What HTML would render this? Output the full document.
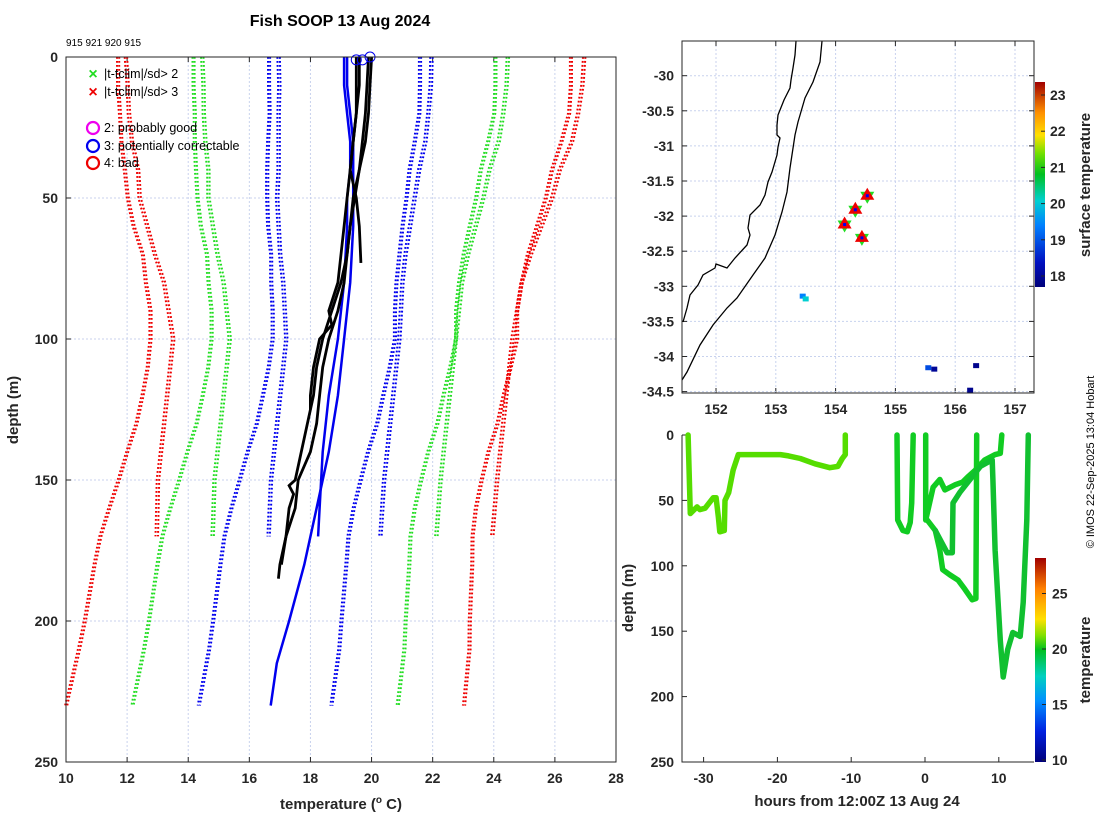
<!DOCTYPE html>
<html><head><meta charset="utf-8">
<style>
html,body{margin:0;padding:0;background:#fff;}
svg{display:block;font-family:"Liberation Sans","DejaVu Sans",sans-serif;}
.tk{font-size:14px;font-weight:bold;fill:#262626;}
.lab{font-size:15px;font-weight:bold;fill:#262626;}
</style></head>
<body>
<svg id="fig" width="1100" height="820" viewBox="0 0 1100 820" xmlns="http://www.w3.org/2000/svg">
<defs>
<linearGradient id="cbMap" x1="0" y1="1" x2="0" y2="0">
<stop offset="0" stop-color="#00007a"/><stop offset="0.12" stop-color="#0010c0"/><stop offset="0.3" stop-color="#0080ff"/><stop offset="0.42" stop-color="#00d0d0"/><stop offset="0.55" stop-color="#00c020"/><stop offset="0.65" stop-color="#70e000"/><stop offset="0.74" stop-color="#ffe000"/><stop offset="0.85" stop-color="#ff9000"/><stop offset="1" stop-color="#a00000"/>
</linearGradient>
<linearGradient id="cbBot" x1="0" y1="1" x2="0" y2="0">
<stop offset="0" stop-color="#00007a"/><stop offset="0.15" stop-color="#0020e0"/><stop offset="0.3" stop-color="#0090ff"/><stop offset="0.42" stop-color="#00d0c0"/><stop offset="0.55" stop-color="#00c020"/><stop offset="0.62" stop-color="#80e000"/><stop offset="0.7" stop-color="#ffe000"/><stop offset="0.85" stop-color="#ff8000"/><stop offset="1" stop-color="#a00000"/>
</linearGradient>
</defs>
<text x="340" y="26" text-anchor="middle" font-size="16" font-weight="bold" fill="#000">Fish SOOP 13 Aug 2024</text>
<text x="66" y="46" font-size="10" fill="#000">915 921 920 915</text>
<text transform="translate(1094,462) rotate(-90)" text-anchor="middle" font-size="11" fill="#000">© IMOS 22-Sep-2025 13:04 Hobart</text>
<g id="main"></g>
<g id="map"></g>
<g id="bot"></g>
</svg>
<script>
// ---------- Main profile data ----------
const climDepthsLong = [0,10,20,30,40,50,60,70,80,90,100,110,120,130,140,150,160,170,180,190,200,210,220,230];
const climMeanLong = [19.2,19.2,19.2,19.1,19.0,18.95,18.9,18.9,18.85,18.85,18.85,18.7,18.5,18.3,18.0,17.75,17.5,17.3,17.2,17.1,17.0,16.9,16.75,16.6];
const climSdLong = [2.47,2.47,2.45,2.4,2.33,2.28,2.2,2.1,2.05,2.0,2.0,1.98,1.97,1.97,1.97,1.98,2.0,2.03,2.06,2.08,2.1,2.13,2.15,2.17];
const climDepthsShort = [0,10,20,30,40,50,60,70,80,90,100,110,120,130,140,150,160,170];
const climMeanShort = [19.3,19.3,19.25,19.2,19.1,19.0,18.95,18.9,18.9,18.9,18.9,18.8,18.7,18.6,18.5,18.4,18.35,18.3];
const climSdShort = [2.5,2.48,2.45,2.4,2.3,2.25,2.15,2.05,1.95,1.9,1.85,1.85,1.85,1.85,1.85,1.85,1.84,1.83];
const climOffsets = [-0.12, 0.12, -0.05, 0.2];
const climTypes = ['long','short','long','short'];
const sdMultipliers = [1,2,3];
const sdColors = ['#0000ee','#22dd22','#ee0000'];

const blackDepths1 = [0,10,20,30,40,50,60,70,80,90,100,110,120,130,140,150,152,155,160,170,180,185];
const blackTemps1 = [19.9,19.85,19.8,19.7,19.6,19.45,19.3,19.2,19.0,18.7,18.4,18.2,18.1,17.9,17.7,17.5,17.3,17.45,17.3,17.2,17.0,16.95];
const blackDepths2 = [0,10,20,30,40,50,60,70,80,90,95,100,110,120,125];
const blackTemps2 = [19.6,19.6,19.5,19.4,19.3,19.2,19.1,19.0,18.9,18.6,18.7,18.3,18.1,18.0,18.0];
const blackDepths3 = [0,10,20,30,40,50,60,73];
const blackTemps3 = [19.5,19.5,19.5,19.4,19.3,19.5,19.6,19.65];
const blackDepths4 = [0,10,20,30,40,50,60,70,80,90,100,110,120,130,140,150,160,170,180];
const blackTemps4 = [20.0,19.95,19.9,19.8,19.6,19.4,19.3,19.2,19.1,18.9,18.6,18.4,18.3,18.2,18.0,17.6,17.5,17.2,17.05];
const blueDepths1 = [0,10,20,30,40,50,60,80,100,120,140,160,180,200,215,230];
const blueTemps1 = [19.2,19.2,19.3,19.4,19.4,19.4,19.4,19.3,19.1,18.9,18.6,18.2,17.8,17.3,16.9,16.7];
const blueDepths2 = [0,10,20,30,40,50,60,80,100,120,140,160,170];
const blueTemps2 = [19.1,19.1,19.2,19.3,19.3,19.2,19.2,19.1,18.9,18.6,18.4,18.3,18.25];
const flagTemps = [19.5,19.7,19.95];
const flagDepths = [1,1,0];
const tempTicks = [10,12,14,16,18,20,22,24,26,28];
const depthTicks = [0,50,100,150,200,250];

// ---------- Map data ----------
const lonTicks = [152,153,154,155,156,157];
const latTicks = [-30,-30.5,-31,-31.5,-32,-32.5,-33,-33.5,-34,-34.5];
const stationLons = [154.53,154.33,154.15,154.44];
const stationLats = [-31.71,-31.91,-32.12,-32.31];
const sstLons = [153.45,153.5,155.55,155.65,156.35,156.25];
const sstLats = [-33.14,-33.18,-34.16,-34.18,-34.13,-34.48];
const sstVals = [19.3,20.0,18.8,17.8,17.7,17.7];
const mapCbTicks = [18,19,20,21,22,23];

// ---------- Depth-time data ----------
const track1Hours = [-32.1,-31.8,-30.9,-30.5,-29.8,-28.7,-28.3,-28.0,-27.8,-27.2,-27.1,-26.6,-26.0,-25.3,-25.1,-22.4,-19.6,-18.5,-16.9,-14.9,-12.9,-11.8,-11.2,-10.8,-10.8];
const track1Depths = [0,60,55,57,56,48,48,63,74,73,50,44,27,15,15,15,15,16,18,22,25,24,18,15,0];
const track2Hours = [-3.8,-3.7,-3.0,-2.4,-2.0,-1.8,-1.6];
const track2Depths = [0,65,73,74,67,52,0];
const track3Hours = [0.1,0.1,0.3,1.1,2.0,2.7,4.1,5.1,5.8,6.8,8.1,9.5,10.2,10.4];
const track3Depths = [0,65,60,40,34,42,38,36,32,27,19,15,14,0];
const track4Hours = [0.3,1.4,2.0,2.4,3.4,4.5,5.4,6.4,6.9,7.0];
const track4Depths = [65,73,88,103,107,111,118,126,125,0];
const track5Hours = [1.4,3.0,3.7,3.8,4.7,6.1,7.5,9.1,9.2,9.5,10.2,10.6,11.2,11.9,12.9,13.3,13.8,14.0];
const track5Depths = [73,90,90,52,44,34,24,19,34,88,157,185,164,151,154,128,65,0];
const hourTicks = [-30,-20,-10,0,10];
const botDepthTicks = [0,50,100,150,200,250];
const botCbTicks = [10,15,20,25];

const NS='http://www.w3.org/2000/svg';
function mk(tag, attrs, parent){const e=document.createElementNS(NS,tag);for(const k in attrs)e.setAttribute(k,attrs[k]);parent.appendChild(e);return e;}

// ===== MAIN PLOT =====
const main=document.getElementById('main');
const MX0=66,MX1=616,MY0=57,MY1=762;
const xT=t=>MX0+(t-10)/(28-10)*(MX1-MX0);
const yD=d=>MY0+d/250*(MY1-MY0);
tempTicks.forEach(t=>{
  const g=mk('line',{x1:xT(t),x2:xT(t),y1:MY0,y2:MY1,stroke:'#c8d2ee','stroke-width':1,'stroke-dasharray':'2 2'},main);
  
  
  const tl=mk('text',{x:xT(t),y:MY1+21,'text-anchor':'middle',class:'tk'},main);tl.textContent=t;
  
  
  mk('line',{x1:xT(t),x2:xT(t),y1:MY1,y2:MY1-5,stroke:'#262626'},main);
  mk('line',{x1:xT(t),x2:xT(t),y1:MY0,y2:MY0+5,stroke:'#262626'},main);
});
depthTicks.forEach(d=>{
  const g=mk('line',{x1:MX0,x2:MX1,y1:yD(d),y2:yD(d),stroke:'#c8d2ee','stroke-width':1,'stroke-dasharray':'2 2'},main);
  
  
  const tl=mk('text',{x:MX0-8,y:yD(d)+5,'text-anchor':'end',class:'tk'},main);tl.textContent=d;
  
  
  mk('line',{x1:MX0,x2:MX0+5,y1:yD(d),y2:yD(d),stroke:'#262626'},main);
});
function poly(par,xs,ys,attrs){const pts=xs.map((x,i)=>x.toFixed(1)+','+ys[i].toFixed(1)).join(' ');return mk('polyline',Object.assign({points:pts,fill:'none'},attrs),par);}
climTypes.forEach((ty,p)=>{
  const dep=ty==='long'?climDepthsLong:climDepthsShort;
  const mean=ty==='long'?climMeanLong:climMeanShort;
  const sd=ty==='long'?climSdLong:climSdShort;
  sdMultipliers.forEach((m,k)=>{
    [-1,1].forEach(s=>{
      const xs=dep.map((d,i)=>xT(mean[i]+climOffsets[p]+s*m*sd[i]));
      const ys=dep.map(d=>yD(d));
      const l=poly(main,xs,ys,{stroke:sdColors[k],'stroke-width':2,'stroke-dasharray':'1.8 2.2'});
      
      
    });
  });
});
[[blueDepths1,blueTemps1],[blueDepths2,blueTemps2]].forEach(([d,t])=>{
  const l=poly(main,t.map(xT),d.map(yD),{stroke:'#0000ee','stroke-width':2.5});
  
  
});
[[blackDepths1,blackTemps1],[blackDepths2,blackTemps2],[blackDepths3,blackTemps3],[blackDepths4,blackTemps4]].forEach(([d,t])=>{
  const l=poly(main,t.map(xT),d.map(yD),{stroke:'#000','stroke-width':2.8});
  
  
});
flagTemps.forEach((t,i)=>{
  const c=mk('circle',{cx:xT(t),cy:yD(flagDepths[i]),r:5,fill:'none',stroke:'#0000ee','stroke-width':1},main);
  
  
});
mk('rect',{x:MX0,y:MY0,width:MX1-MX0,height:MY1-MY0,fill:'none',stroke:'#262626','stroke-width':1},main);
// legend
const lg=mk('g',{},main);


const legItems=[['x','#22dd22',74,'|t-tclim|/sd> 2'],['x','#ee0000',92,'|t-tclim|/sd> 3'],['o','#ee00ee',128,'2: probably good'],['o','#0000ee',146,'3: potentially correctable'],['o','#ee0000',163,'4: bad']];
legItems.forEach(([s,c,y,txt])=>{
  if(s==='x'){mk('text',{x:93,y:y+5,'text-anchor':'middle','font-size':16,'font-weight':'bold',fill:c},lg).textContent='×';}
  else mk('circle',{cx:93,cy:y,r:6,fill:'none',stroke:c,'stroke-width':2.2},lg);
  const t=mk('text',{x:104,y:y+4,'font-size':12.5,fill:'#000'},lg);t.textContent=txt;
  
  
});
const xl=mk('text',{x:341,y:809,'text-anchor':'middle',class:'lab'},main);
xl.innerHTML='temperature (<tspan font-size="10" dy="-6">o</tspan><tspan dy="6"> C)</tspan>';


const yl=mk('text',{transform:'translate(18,410) rotate(-90)','text-anchor':'middle',class:'lab'},main);yl.textContent='depth (m)';



// ===== MAP =====
const map=document.getElementById('map');
const AX0=682,AX1=1034,AY0=41,AY1=393;
const xLon=l=>716+(l-152)*59.8;
const yLat=l=>75.7+(-30-l)*70.2;
lonTicks.forEach(l=>{
  mk('line',{x1:xLon(l),x2:xLon(l),y1:AY0,y2:AY1,stroke:'#c8d2ee','stroke-dasharray':'2 2'},map);
  mk('line',{x1:xLon(l),x2:xLon(l),y1:AY1,y2:AY1-5,stroke:'#262626'},map);
  mk('line',{x1:xLon(l),x2:xLon(l),y1:AY0,y2:AY0+5,stroke:'#262626'},map);
  const t=mk('text',{x:xLon(l),y:AY1+21,'text-anchor':'middle',class:'tk'},map);t.textContent=l;
  
  
});
latTicks.forEach(l=>{
  mk('line',{x1:AX0,x2:AX1,y1:yLat(l),y2:yLat(l),stroke:'#c8d2ee','stroke-dasharray':'2 2'},map);
  mk('line',{x1:AX0,x2:AX0+5,y1:yLat(l),y2:yLat(l),stroke:'#262626'},map);
  mk('line',{x1:AX1,x2:AX1-5,y1:yLat(l),y2:yLat(l),stroke:'#262626'},map);
  const t=mk('text',{x:AX0-8,y:yLat(l)+5,'text-anchor':'end',class:'tk'},map);t.textContent=l;
  
  
});
const coast=mk('polyline',{points:'796,41 795,55 793,68 791,80 790,88 784,100 778,115 777,125 777,135 780,138 778,147 777,155 772,172 768,182 765,195 760,205 750,215 748,228 750,235 747,245 735,258 727,268 716,264 715,268 703,275 698,285 690,295 687,308 683,322',fill:'none',stroke:'#000','stroke-width':1.3},map);


const iso=mk('polyline',{points:'822,41 820,62 813,82 805,98 798,122 795,135 790,168 787,192 782,212 775,235 765,258 753,275 737,298 727,308 713,325 700,345 687,372 682,380',fill:'none',stroke:'#000','stroke-width':1.3},map);


function sstColor(v){const f=(v-17.5)/(23.5-17.5);const stops=[[0,[0,0,122]],[0.12,[0,16,192]],[0.3,[0,128,255]],[0.42,[0,208,208]],[0.55,[0,192,32]],[0.65,[112,224,0]],[0.74,[255,224,0]],[0.85,[255,144,0]],[1,[160,0,0]]];for(let i=1;i<stops.length;i++){if(f<=stops[i][0]){const a=stops[i-1],b=stops[i];const u=(f-a[0])/(b[0]-a[0]);return 'rgb('+a[1].map((c,k)=>Math.round(c+(b[1][k]-c)*u)).join(',')+')';}}return 'rgb(160,0,0)';}
sstLons.forEach((l,i)=>{
  const r=mk('rect',{x:xLon(l)-3,y:yLat(sstLats[i])-2.5,width:6,height:5,fill:sstColor(sstVals[i])},map);
  
  
});
stationLons.forEach((l,i)=>{
  const x=xLon(l),y=yLat(stationLats[i]);
  const g=mk('g',{},map);
  
  
  mk('polygon',{points:`${x-7},${y-4} ${x+7},${y-4} ${x},${y+8}`,fill:'#22dd22'},g);
  mk('polygon',{points:`${x-7},${y+4} ${x+7},${y+4} ${x},${y-8}`,fill:'#ee0000'},g);
  mk('rect',{x:x-1.5,y:y-1.5,width:3,height:3,fill:'#0000ee'},g);
});
mk('rect',{x:AX0,y:AY0,width:AX1-AX0,height:AY1-AY0,fill:'none',stroke:'#262626'},map);
const cbm=mk('rect',{x:1035,y:82,width:10,height:205,fill:'url(#cbMap)'},map);


const cbY=v=>276-(v-18)*36.2;
mapCbTicks.forEach(v=>{
  mk('line',{x1:1041,x2:1045,y1:cbY(v),y2:cbY(v),stroke:'#262626'},map);
  const t=mk('text',{x:1050,y:cbY(v)+5,class:'tk','font-size':13},map);t.textContent=v;
  
  
});
const cbl=mk('text',{transform:'translate(1090,185) rotate(-90)','text-anchor':'middle',class:'lab'},map);cbl.textContent='surface temperature';



// ===== DEPTH-TIME =====
const bot=document.getElementById('bot');
const BX0=682,BX1=1034,BY0=435,BY1=762;
const xH=h=>925+h*7.38;
const yBD=d=>BY0+d/250*(BY1-BY0);
hourTicks.forEach(h=>{
  mk('line',{x1:xH(h),x2:xH(h),y1:BY1,y2:BY1-5,stroke:'#262626'},bot);
  const t=mk('text',{x:xH(h),y:BY1+21,'text-anchor':'middle',class:'tk'},bot);t.textContent=h;
  
  
});
botDepthTicks.forEach(d=>{
  mk('line',{x1:BX0,x2:BX0+5,y1:yBD(d),y2:yBD(d),stroke:'#262626'},bot);
  const t=mk('text',{x:BX0-8,y:yBD(d)+5,'text-anchor':'end',class:'tk'},bot);t.textContent=d;
  
  
});
mk('polyline',{points:`${BX0},${BY0} ${BX0},${BY1} ${BX1},${BY1}`,fill:'none',stroke:'#262626'},bot);
const trackColors=['#55dd00','#11cc22','#11cc22','#11cc22','#11c030'];
[[track1Hours,track1Depths],[track2Hours,track2Depths],[track3Hours,track3Depths],[track4Hours,track4Depths],[track5Hours,track5Depths]].forEach(([h,d],i)=>{
  const l=poly(bot,h.map(xH),d.map(yBD),{stroke:trackColors[i],'stroke-width':5.5,'stroke-linejoin':'round','stroke-linecap':'round'});
  
  
});
const cbb=mk('rect',{x:1035,y:558,width:11,height:204,fill:'url(#cbBot)'},bot);


const cbY2=v=>760-(v-10)*11.1;
botCbTicks.forEach(v=>{
  mk('line',{x1:1042,x2:1046,y1:cbY2(v),y2:cbY2(v),stroke:'#262626'},bot);
  const t=mk('text',{x:1052,y:cbY2(v)+5,class:'tk','font-size':13},bot);t.textContent=v;
  
  
});
const bl=mk('text',{transform:'translate(1090,660) rotate(-90)','text-anchor':'middle',class:'lab'},bot);bl.textContent='temperature';


const bxl=mk('text',{x:857,y:806,'text-anchor':'middle',class:'lab'},bot);bxl.textContent='hours from 12:00Z 13 Aug 24';


const byl=mk('text',{transform:'translate(633,598) rotate(-90)','text-anchor':'middle',class:'lab'},bot);byl.textContent='depth (m)';


</script>
</body></html>
